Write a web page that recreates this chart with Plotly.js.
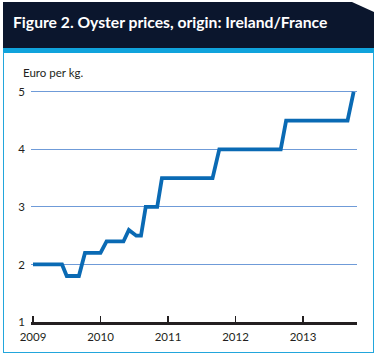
<!DOCTYPE html>
<html>
<head>
<meta charset="utf-8">
<script src="https://cdn.plot.ly/plotly-3.0.1.min.js"></script>
<style>
html,body{margin:0;padding:0;background:#fff;}
#wrap{position:relative;width:379px;height:361px;overflow:hidden;}
#hdr{position:absolute;left:3px;top:2px;width:371px;height:46px;background:#0b162d;
 clip-path:polygon(0 0, 349px 0, 371px 10px, 371px 46px, 0 46px);}
#bar{position:absolute;left:3px;top:48px;width:371px;height:5px;background:#10a3dc;}
#box{position:absolute;left:3px;top:52px;width:369px;height:300px;border:1.5px solid #22a6dc;border-top:none;}
#chart{position:absolute;left:0;top:0;width:379px;height:361px;}
</style>
</head>
<body>
<div id="wrap">
<div id="hdr"></div>
<div id="bar"></div>
<div id="box"></div>
<div id="chart"></div>
</div>
<script>
// Time in decimal years, price in Euro per kg
const years = [2009.0, 2009.43, 2009.5, 2009.68, 2009.77, 2010.0, 2010.09, 2010.34, 2010.42, 2010.53, 2010.6, 2010.67, 2010.84, 2010.91, 2011.66, 2011.76, 2012.67, 2012.75, 2013.66, 2013.75];
const prices = [2.0, 2.0, 1.8, 1.8, 2.2, 2.2, 2.4, 2.4, 2.6, 2.5, 2.5, 3.0, 3.0, 3.5, 3.5, 4.0, 4.0, 4.5, 4.5, 5.0];
const tickYears = [2009, 2010, 2011, 2012, 2013];
const tickLabels = ["2009", "2010", "2011", "2012", "2013"];
const yTicks = [1, 2, 3, 4, 5];

const PL = 31, PR = 357, PT = 89, PB = 322;
const font = "Lato, 'Open Sans', 'Liberation Sans', sans-serif";

Plotly.newPlot('chart', [{
  x: years, y: prices, type: 'scatter', mode: 'lines',
  line: {color: '#0a6ab4', width: 3.8, shape: 'linear'},
  hoverinfo: 'skip'
}], {
  width: 379, height: 361,
  margin: {l: PL, r: 379 - PR, t: PT, b: 361 - PB, pad: 0},
  paper_bgcolor: 'rgba(0,0,0,0)', plot_bgcolor: 'rgba(0,0,0,0)',
  showlegend: false,
  title: {text: 'Figure 2. Oyster prices, origin: Ireland/France', xref: 'container', yref: 'container',
    x: 13/379, xanchor: 'left', y: 1 - 23/361, yanchor: 'middle',
    font: {family: font, size: 15.7, color: '#ffffff', weight: 'bold'}},
  xaxis: {range: [2009 - 2/67.5, 2013.8], tickvals: tickYears, ticktext: tickLabels,
    showgrid: false, zeroline: false, showline: true, linecolor: '#231f20', linewidth: 3,
    ticks: 'inside', ticklen: 6, tickwidth: 1.5, tickcolor: '#231f20', ticklabelstandoff: 2,
    tickfont: {family: font, size: 11.5, color: '#231f20'}, fixedrange: true},
  yaxis: {range: [1, 5.05], tickvals: yTicks, showgrid: true, gridcolor: '#6f9bd8', gridwidth: 1,
    zeroline: false, showline: false, ticks: '', ticklabelstandoff: 5,
    tickfont: {family: font, size: 11.5, color: '#231f20'}, fixedrange: true},
  annotations: [{text: 'Euro per kg.', xref: 'paper', yref: 'paper', x: (21 - PL)/(PR - PL), y: (PB - 73)/(PB - PT),
    xanchor: 'left', yanchor: 'middle', showarrow: false, font: {family: font, size: 11.5, color: '#231f20'}}]
}, {staticPlot: true});
</script>
</body>
</html>
